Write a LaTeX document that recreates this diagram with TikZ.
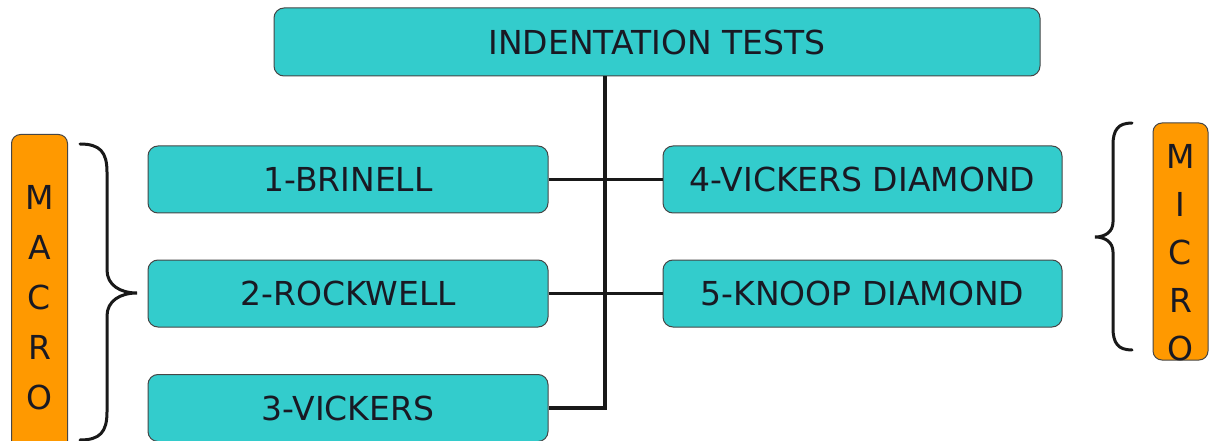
\documentclass[tikz,border=0pt]{standalone}
\usepackage{fontspec}
\setmainfont{DejaVu Sans}
\definecolor{tealbox}{RGB}{51,204,204}
\definecolor{orangebox}{RGB}{255,153,0}
\definecolor{edge}{RGB}{70,70,70}
\definecolor{ink}{RGB}{25,25,35}
\begin{document}
\begin{tikzpicture}[x=1pt,y=-1pt,
  tbox/.style={draw=edge, line width=1pt, fill=tealbox, rounded corners=10pt,
    inner sep=0pt, font=\fontsize{33}{40}\selectfont, text=ink},
  obox/.style={draw=edge, line width=1pt, fill=orangebox, rounded corners=9pt,
    inner sep=0pt, minimum width=56pt},
  vtext/.style={inner sep=0pt, align=center, text=ink},
  conn/.style={line width=3.5pt, black!90},
  bracepath/.style={line width=3pt, black!90, line cap=round}
]
\clip (0,0) rectangle (1211,441);
\fill[white] (0,0) rectangle (1211,441);

% main boxes
\node[tbox, minimum width=766pt, minimum height=68pt] (top) at (657,42) {INDENTATION TESTS};
\node[tbox, minimum width=400pt, minimum height=67pt] (b1) at (348,179.5) {1-BRINELL};
\node[tbox, minimum width=400pt, minimum height=67pt] (b2) at (348,293.5) {2-ROCKWELL};
\node[tbox, minimum width=400pt, minimum height=67pt] (b3) at (348,408) {3-VICKERS};
\node[tbox, minimum width=399pt, minimum height=67pt] (b4) at (862.5,179.5) {4-VICKERS DIAMOND};
\node[tbox, minimum width=399pt, minimum height=67pt] (b5) at (862.5,293.5) {5-KNOOP DIAMOND};

% connectors
\coordinate (trunk) at (605,0);
\draw[conn] (top.south -| trunk) |- (b3.east);
\draw[conn] (b1.east) -- (b4.west);
\draw[conn] (b2.east) -- (b5.west);

% side labels
\node[obox, minimum height=330pt, anchor=north] (macrobox) at (39.5,134) {};
\node[vtext, font=\fontsize{33}{50}\selectfont] (macro) at (39.5,297.5) {M\\A\\C\\R\\O};
\node[obox, minimum width=55pt, minimum height=237pt] (microbox) at (1180.5,241.5) {};
\node[vtext, font=\fontsize{33}{48}\selectfont] (micro) at (1180.5,252.5) {M\\I\\C\\R\\O};

% braces
\draw[bracepath] (80,144) .. controls (100,144) and (107,152) .. (107,172)
  -- (107,270) .. controls (107,285) and (120,293) .. (137,293)
  .. controls (120,293) and (107,301) .. (107,316)
  -- (107,412) .. controls (107,432) and (100,440) .. (80,440);
\draw[bracepath] (1132,123) .. controls (1118,123) and (1113,130) .. (1113,145)
  -- (1113,222) .. controls (1113,232) and (1105,237) .. (1095,237)
  .. controls (1105,237) and (1113,242) .. (1113,252)
  -- (1113,328) .. controls (1113,343) and (1118,350) .. (1132,350);
\end{tikzpicture}
\end{document}
